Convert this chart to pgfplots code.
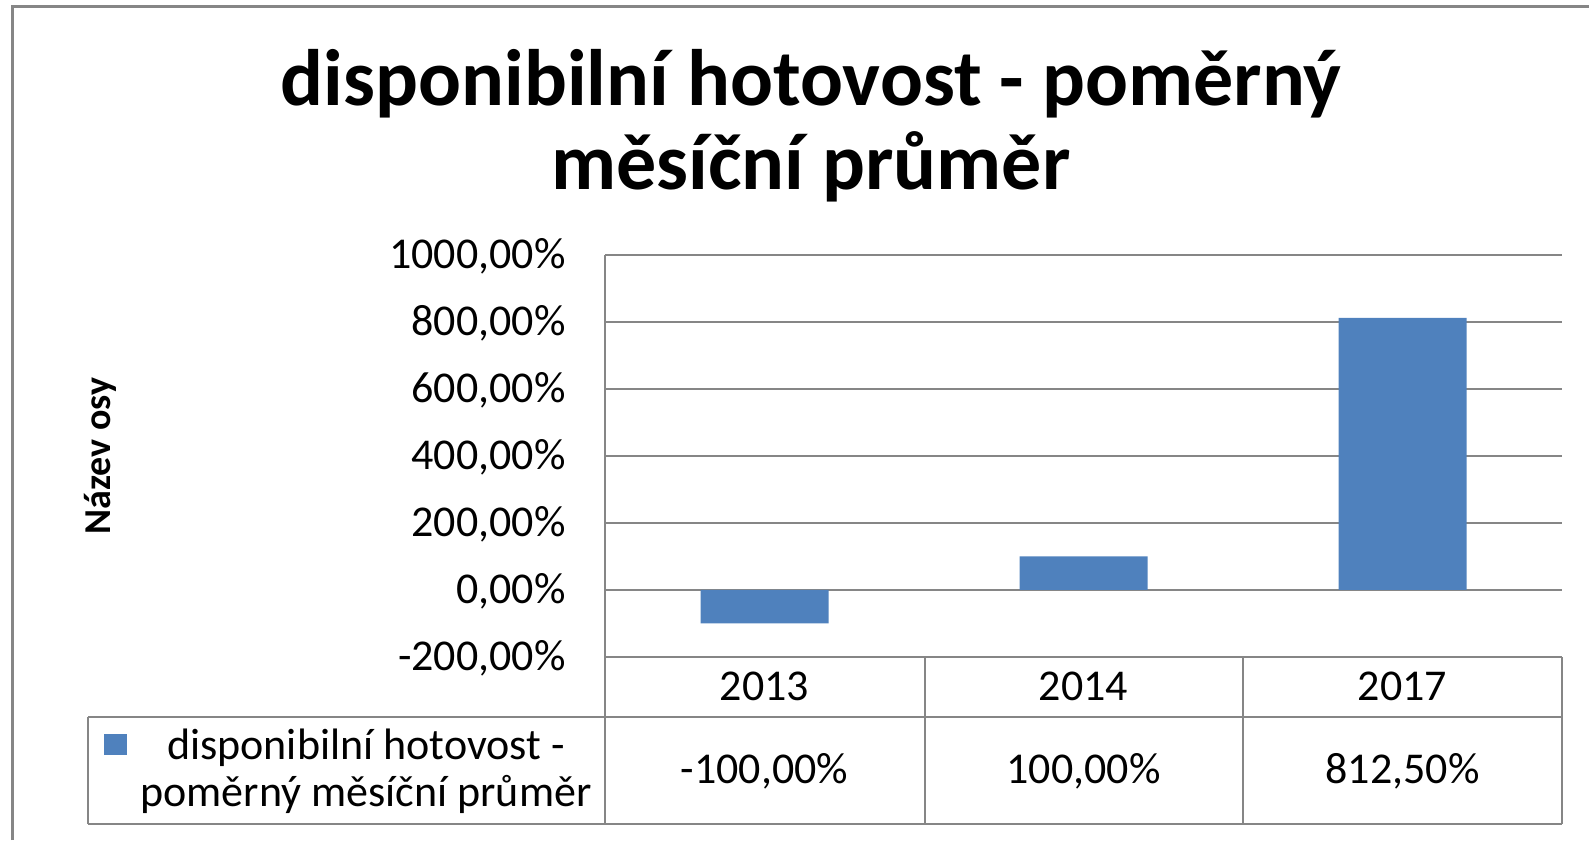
\documentclass[border=0pt]{standalone}
\usepackage{pgfplots}
\pgfplotsset{compat=1.18}
\usepackage{fontspec}
\setmainfont{Carlito}
\definecolor{barblue}{RGB}{79,129,189}
\definecolor{linegray}{RGB}{134,134,134}
\begin{document}
\begin{tikzpicture}
\path[use as bounding box] (0,0) rectangle (794.5pt,420pt);
% outer frame (left and top edges visible)
\draw[linegray, line width=1.5pt] (6.25pt,0pt) -- (6.25pt,416.75pt) -- (794.5pt,416.75pt);
% title
\node[anchor=base, font=\fontsize{40}{48}\selectfont\bfseries, inner sep=0pt] at (405.5pt,367pt) {disponibilní hotovost - poměrný};
\node[anchor=base, font=\fontsize{40}{48}\selectfont\bfseries, inner sep=0pt] at (405.5pt,325pt) {měsíční průměr};
% y label
\node[anchor=base, rotate=90, font=\fontsize{19}{23}\selectfont\bfseries, inner sep=0pt] at (55pt,192pt) {Název osy};
\begin{axis}[
  at={(302.5pt,91.5pt)}, anchor=south west,
  scale only axis, width=478.5pt, height=201pt,
  xmin=-0.5, xmax=2.5, ymin=-200, ymax=1000,
  axis x line=none, axis y line*=left,
  y axis line style={linegray, line width=1pt},
  xtick=\empty,
  ytick={-200,0,200,400,600,800,1000},
  yticklabels={{-200,00\%},{0,00\%},{200,00\%},{400,00\%},{600,00\%},{800,00\%},{1000,00\%}},
  major tick length=0pt,
  yticklabel style={anchor=base east, inner sep=0pt, xshift=-19.5pt, yshift=-7pt, font=\fontsize{22}{26}\selectfont},
  ymajorgrids, grid style={linegray, line width=1pt},
  clip=false,
]
\addplot[ybar, bar width=64pt, bar shift=0pt, fill=barblue, draw=none] coordinates {(0,-100) (1,100) (2,812.5)};
\end{axis}
% data table
\begin{scope}[linegray, line width=1pt]
\draw (302.5pt,91.5pt) -- (781pt,91.5pt);
\draw (44pt,61.5pt) -- (781pt,61.5pt);
\draw (44pt,8pt) -- (781pt,8pt);
\draw (44pt,8pt) -- (44pt,61.5pt);
\draw (302.5pt,8pt) -- (302.5pt,91.5pt);
\draw (462.5pt,8pt) -- (462.5pt,91.5pt);
\draw (621.5pt,8pt) -- (621.5pt,91.5pt);
\draw (781pt,8pt) -- (781pt,91.5pt);
\end{scope}
\begin{scope}[every node/.style={anchor=base, inner sep=0pt, font=\fontsize{22}{26}\selectfont}]
\node at (382.25pt,69.5pt) {2013};
\node at (541.75pt,69.5pt) {2014};
\node at (701.25pt,69.5pt) {2017};
\node at (382.25pt,28pt) {-100,00\%};
\node at (541.75pt,28pt) {100,00\%};
\node at (701.25pt,28pt) {812,50\%};
\node at (183pt,40pt) {disponibilní hotovost -};
\node at (183pt,16.5pt) {poměrný měsíční průměr};
\end{scope}
\fill[barblue] (52pt,42.5pt) rectangle (63.5pt,53pt);
\end{tikzpicture}
\end{document}
